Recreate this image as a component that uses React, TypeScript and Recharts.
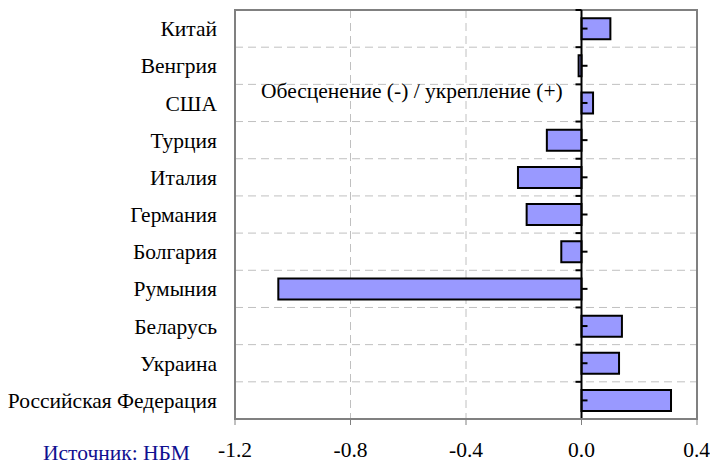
import { BarChart, Bar, XAxis, YAxis, CartesianGrid, ReferenceLine, ReferenceArea } from 'recharts';

const countries = [
  'Китай',
  'Венгрия',
  'США',
  'Турция',
  'Италия',
  'Германия',
  'Болгария',
  'Румыния',
  'Беларусь',
  'Украина',
  'Российская Федерация',
];
const changes = [0.1, -0.01, 0.04, -0.12, -0.22, -0.19, -0.07, -1.05, 0.14, 0.13, 0.31];
const xTicks = [-1.2, -0.8, -0.4, 0.0, 0.4];

const data = countries.map((name, i) => ({ name, value: changes[i] }));

const font = "'Liberation Serif', 'Times New Roman', serif";
const fs = 21.5;

// grid lines sit between categories, like the Excel original
const bandLines = ({ offset }: any) => {
  const step = offset.height / countries.length;
  return countries.slice(1).map((_, i) => offset.top + (i + 1) * step);
};

const ZeroAxis = (p: any) => {
  const { x1, y1, y2 } = p;
  const step = (y2 - y1) / countries.length;
  const marks = [];
  for (let i = 0; i <= countries.length; i++) {
    const y = y1 + i * step;
    marks.push(<line key={'b' + i} x1={x1 - 6} x2={x1} y1={y} y2={y} stroke="#000" strokeWidth={2} />);
    if (i < countries.length) {
      const c = y + step / 2;
      marks.push(<line key={'c' + i} x1={x1} x2={x1 + 6} y1={c} y2={c} stroke="#000" strokeWidth={2} />);
    }
  }
  return (
    <g>
      <line x1={x1} x2={x1} y1={y1} y2={y2} stroke="#000" strokeWidth={2} />
      {marks}
    </g>
  );
};

export default function App() {
  return (
    <div style={{ position: 'absolute', left: 0, top: 0, width: 710, height: 466, background: '#fff', fontFamily: font }}>
      <BarChart
        width={710}
        height={466}
        data={data}
        layout="vertical"
        barCategoryGap="22%"
        margin={{ top: 10, right: 13, bottom: 2, left: 0 }}
      >
        <CartesianGrid
          stroke="#c0c0c0"
          strokeDasharray="8 5"
          horizontalCoordinatesGenerator={bandLines}
        />
        <ReferenceArea x1={-1.2} x2={0.4} fill="none" stroke="#808080" strokeWidth={2} />
        <XAxis
          type="number"
          domain={[-1.2, 0.4]}
          ticks={xTicks}
          tickFormatter={(v: number) => v.toFixed(1)}
          height={45}
          axisLine={{ stroke: '#808080', strokeWidth: 2 }}
          tickLine={{ stroke: '#808080', strokeWidth: 1 }}
          tickSize={6}
          tickMargin={17}
          tick={{ fill: '#000', fontSize: fs, fontFamily: font }}
        />
        <YAxis
          type="category"
          dataKey="name"
          width={235}
          axisLine={false}
          tickLine={false}
          tickSize={0}
          tickMargin={18}
          tick={{ fill: '#000', fontSize: fs, fontFamily: font }}
        />
        <Bar dataKey="value" fill="#9999ff" stroke="#000" strokeWidth={2} isAnimationActive={false} />
        <ReferenceLine x={0} shape={ZeroAxis} />
      </BarChart>
      <div style={{ position: 'absolute', left: 261, top: 79, fontSize: fs, color: '#000', whiteSpace: 'nowrap' }}>
        Обесценение (-) / укрепление (+)
      </div>
      <div style={{ position: 'absolute', left: 43, top: 441, fontSize: fs, color: '#101090', whiteSpace: 'nowrap' }}>
        Источник: НБМ
      </div>
    </div>
  );
}
